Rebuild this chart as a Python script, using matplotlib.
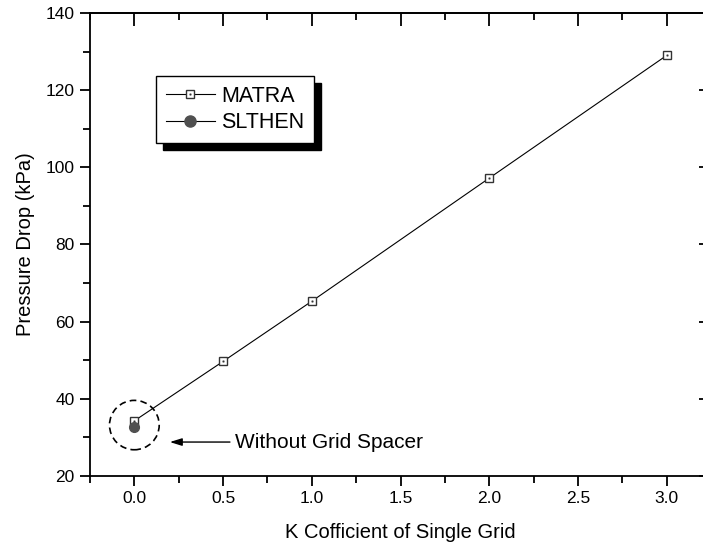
import matplotlib
matplotlib.use("Agg")
import matplotlib.pyplot as plt
from matplotlib.patches import Ellipse
from matplotlib.ticker import MultipleLocator, FormatStrFormatter
from matplotlib.legend_handler import HandlerTuple

plt.rcParams['font.family'] = ['Liberation Sans', 'DejaVu Sans']

# ---- data ----
k_matra = [0.0, 0.5, 1.0, 2.0, 3.0]
dp_matra = [34.3, 49.7, 65.3, 97.2, 129.0]
k_slthen = [0.0]
dp_slthen = [32.8]

x_label = "K Cofficient of Single Grid"
y_label = "Pressure Drop (kPa)"
note_text = "Without Grid Spacer"

W, H = 703, 549
fig = plt.figure(figsize=(W / 100, H / 100), dpi=100)
left, right, top, bottom = 90, 711, 13, 476
ax = fig.add_axes([left / W, 1 - bottom / H, (right - left) / W, (bottom - top) / H])

ax.set_xlim(-0.25, 3.25)
ax.set_ylim(20, 140)

l1, = ax.plot(k_matra, dp_matra, color='black', lw=0.8, marker='s', ms=6,
              mfc='white', mec='#333333', mew=1.0, zorder=3)
l1d, = ax.plot(k_matra, dp_matra, ls='none', marker='s', ms=1.0,
               mfc='#333333', mec='#333333', mew=0.3, zorder=4)
l2, = ax.plot(k_slthen, dp_slthen, ls='none', marker='o', ms=7,
              mfc='#505050', mec='#505050', zorder=5)
l2h, = ax.plot([], [], color='black', lw=0.8, marker='o', ms=8,
               mfc='#505050', mec='#505050')

# dashed circle around the zero-K points
ell = Ellipse((0.0, 33.2), width=0.28, height=12.8, fill=False,
              ls=(0, (4, 2.5)), lw=1.2, ec='black', zorder=2)
ax.add_patch(ell)

ax.annotate(note_text, xy=(0.20, 28.8), xytext=(0.57, 28.8),
            fontsize=15, va='center', ha='left',
            arrowprops=dict(arrowstyle='-|>,head_length=0.8,head_width=0.25',
                            color='black', lw=1.0, shrinkA=2, shrinkB=0,
                            mutation_scale=9))

ax.xaxis.set_major_locator(MultipleLocator(0.5))
ax.xaxis.set_minor_locator(MultipleLocator(0.25))
ax.yaxis.set_major_locator(MultipleLocator(20))
ax.yaxis.set_minor_locator(MultipleLocator(10))
ax.xaxis.set_major_formatter(FormatStrFormatter('%.1f'))

for s in ax.spines.values():
    s.set_linewidth(1.3)

ax.tick_params(which='both', direction='out', top=False, right=False,
               width=1.3, labelsize=12.5, pad=4)
ax.tick_params(which='major', length=7)
ax.tick_params(which='minor', length=5)

# mirrored inward ticks on top and right
sec_x = ax.secondary_xaxis('top')
sec_x.xaxis.set_major_locator(MultipleLocator(0.5))
sec_x.xaxis.set_minor_locator(MultipleLocator(0.25))
sec_x.tick_params(which='both', direction='in', width=1.3, labeltop=False)
sec_x.tick_params(which='major', length=9)
sec_x.tick_params(which='minor', length=5)
sec_x.spines['top'].set_linewidth(1.3)
sec_y = ax.secondary_yaxis('right')
sec_y.yaxis.set_major_locator(MultipleLocator(20))
sec_y.yaxis.set_minor_locator(MultipleLocator(10))
sec_y.tick_params(which='both', direction='in', width=1.3, labelright=False)
sec_y.tick_params(which='major', length=9)
sec_y.tick_params(which='minor', length=5)

ax.set_xlabel(x_label, fontsize=14.5, labelpad=12)
ax.set_ylabel(y_label, fontsize=14.5, labelpad=8)

leg = ax.legend([(l1, l1d), l2h], ['MATRA', 'SLTHEN'],
                handler_map={tuple: HandlerTuple(ndivide=1)},
                loc='upper left', bbox_to_anchor=(0.106, 0.864),
                borderaxespad=0, fontsize=15.5, frameon=True, fancybox=False,
                edgecolor='black', framealpha=1, handlelength=2.3,
                handletextpad=0.3, borderpad=0.45, labelspacing=0.25,
                shadow={'ox': 5, 'oy': -5, 'color': 'black', 'alpha': 1})
leg.get_frame().set_linewidth(1.0)

fig.savefig('out.png', dpi=100)
